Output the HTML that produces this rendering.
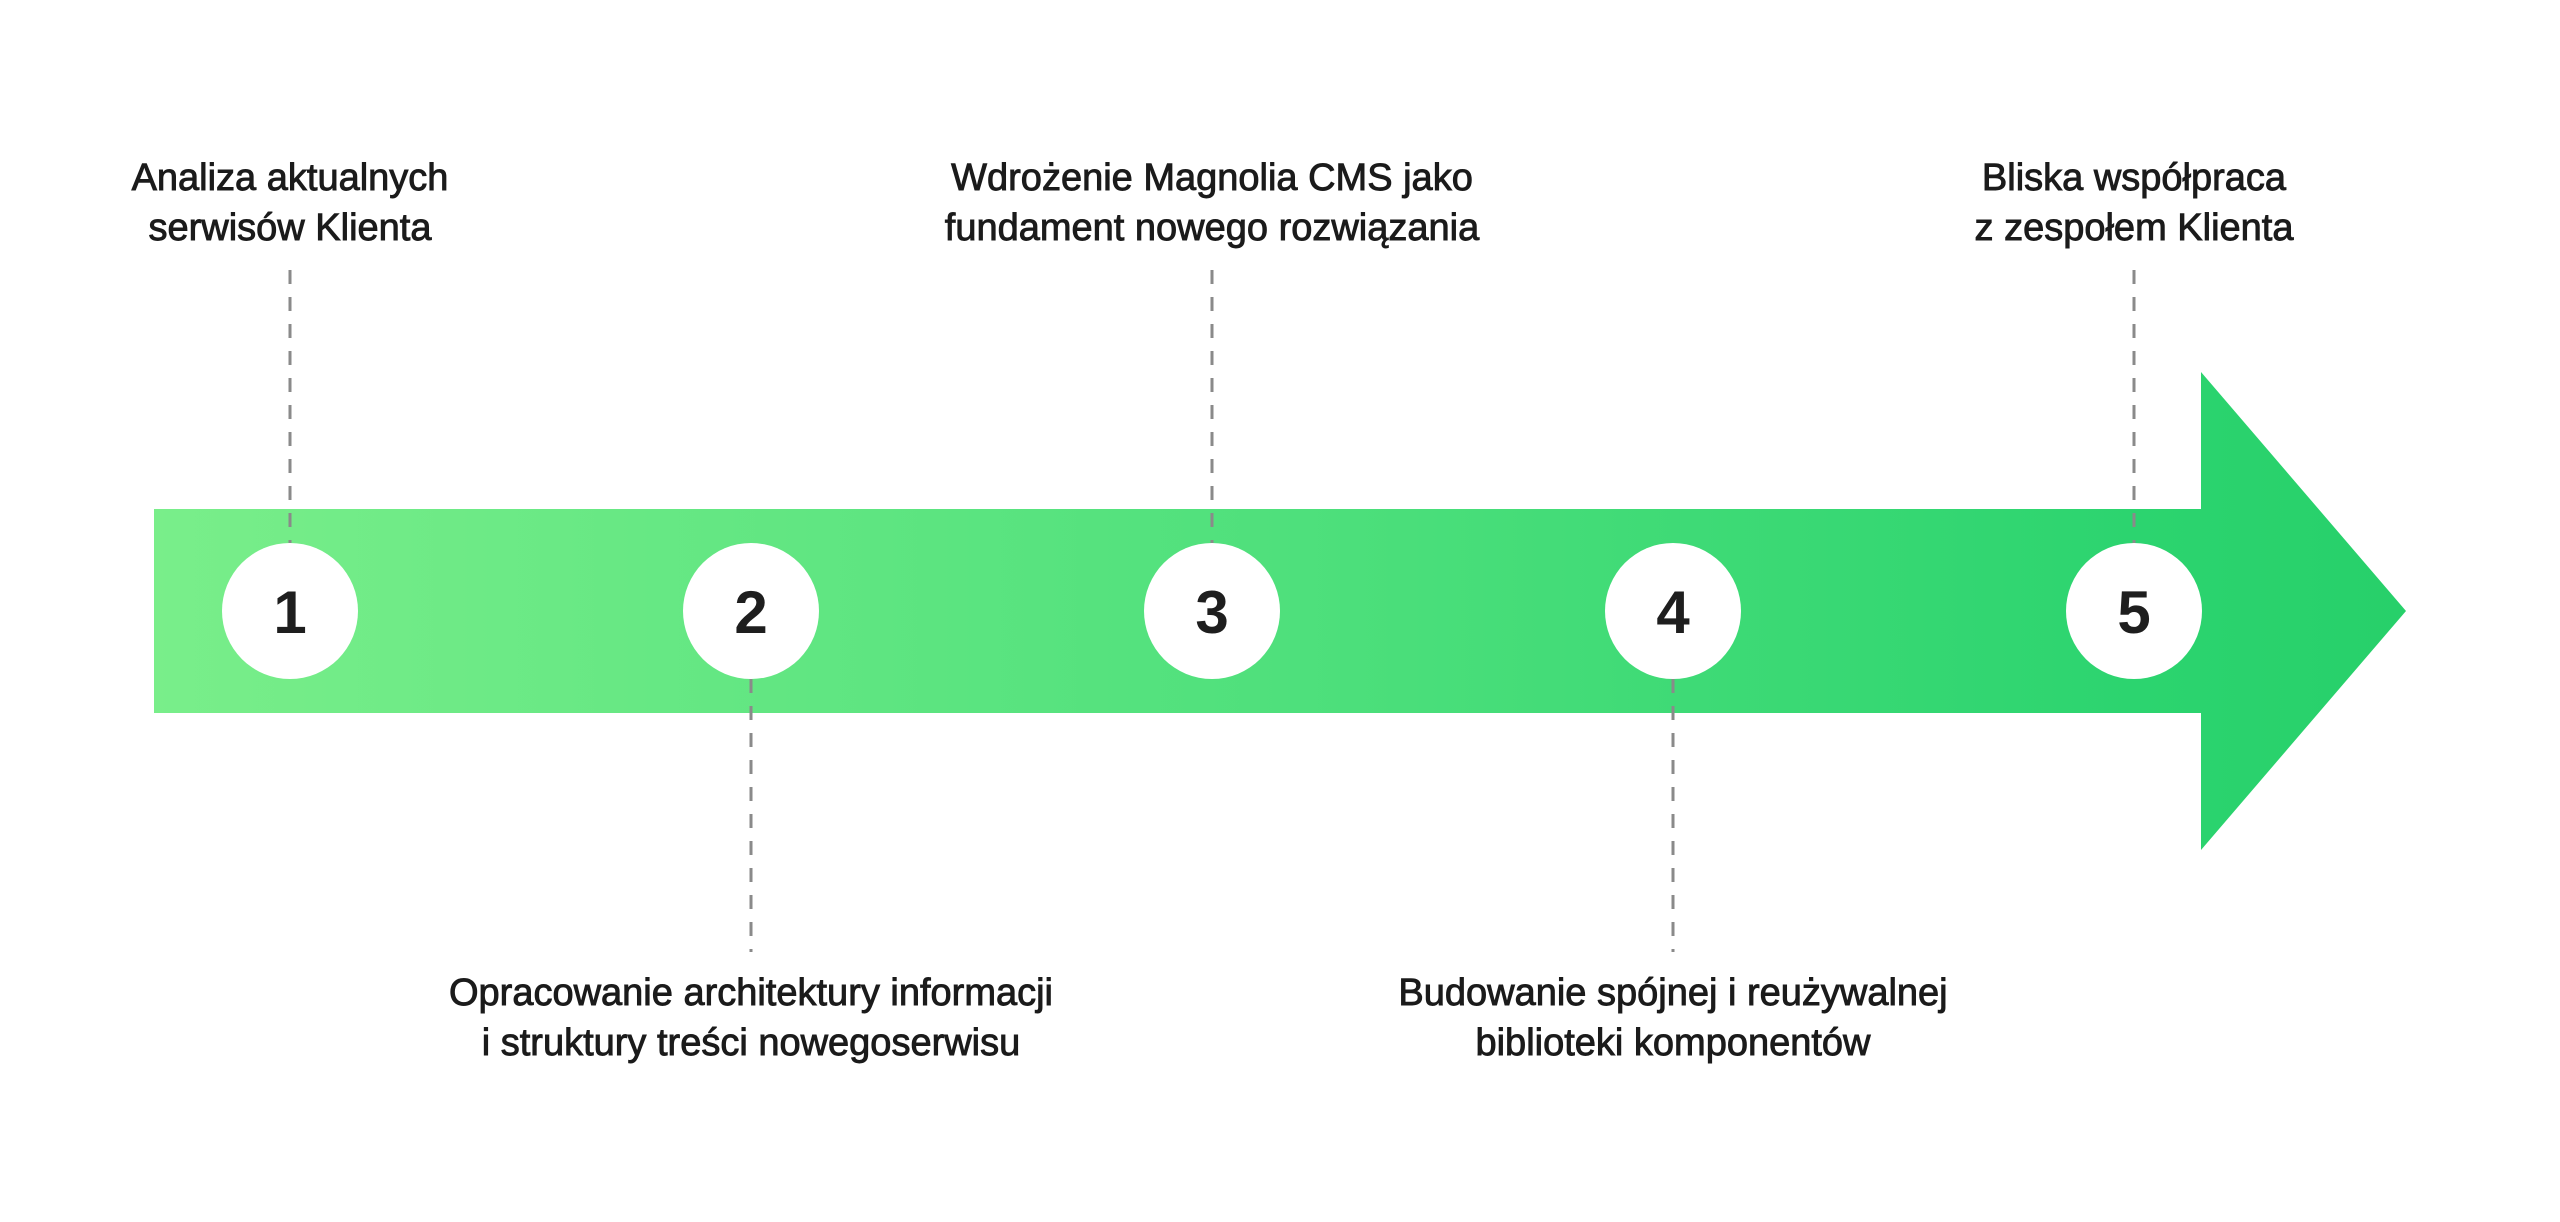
<!DOCTYPE html>
<html><head><meta charset="utf-8"><style>
html,body{margin:0;padding:0;background:#fff;}
svg{display:block;}
text{font-family:"Liberation Sans","DejaVu Sans",sans-serif;fill:#1b1b1b;}
.lbl{font-size:38px;letter-spacing:0px;stroke:#1b1b1b;stroke-width:0.9px;}
.num{font-size:60px;font-weight:bold;fill:#1e1e1e;}
</style></head><body>
<svg width="2560" height="1222" viewBox="0 0 2560 1222" xmlns="http://www.w3.org/2000/svg">
<defs>
<linearGradient id="g" x1="154" y1="0" x2="2406" y2="0" gradientUnits="userSpaceOnUse">
<stop offset="0" stop-color="#79ee8a"/>
<stop offset="0.5" stop-color="#4fe07c"/>
<stop offset="0.88" stop-color="#2cd46f"/>
<stop offset="1" stop-color="#27d06a"/>
</linearGradient>
</defs>
<rect width="2560" height="1222" fill="#fff"/>
<polygon points="154,509 2201,509 2201,372 2406,611 2201,850 2201,713 154,713" fill="url(#g)"/>
<g stroke="#8a8a8a" stroke-width="3" stroke-dasharray="14 13">
<line x1="290" y1="270" x2="290" y2="543"/>
<line x1="1212" y1="270" x2="1212" y2="543"/>
<line x1="2134" y1="270" x2="2134" y2="543"/>
<line x1="751" y1="679" x2="751" y2="952"/>
<line x1="1673" y1="679" x2="1673" y2="952"/>
</g>
<g fill="#fff">
<circle cx="290" cy="611" r="68"/>
<circle cx="751" cy="611" r="68"/>
<circle cx="1212" cy="611" r="68"/>
<circle cx="1673" cy="611" r="68"/>
<circle cx="2134" cy="611" r="68"/>
</g>
<g text-anchor="middle">
<text x="290" y="633" class="num">1</text>
<text x="751" y="633" class="num">2</text>
<text x="1212" y="633" class="num">3</text>
<text x="1673" y="633" class="num">4</text>
<text x="2134" y="633" class="num">5</text>
</g>
<g text-anchor="middle">
<text class="lbl" x="290" y="190">Analiza aktualnych</text>
<text class="lbl" x="290" y="240">serwisów Klienta</text>
<text class="lbl" x="1212" y="190">Wdrożenie Magnolia CMS jako</text>
<text class="lbl" x="1212" y="240">fundament nowego rozwiązania</text>
<text class="lbl" x="2134" y="190">Bliska współpraca</text>
<text class="lbl" x="2134" y="240">z zespołem Klienta</text>
<text class="lbl" x="751" y="1005">Opracowanie architektury informacji</text>
<text class="lbl" x="751" y="1055">i struktury treści nowegoserwisu</text>
<text class="lbl" x="1673" y="1005">Budowanie spójnej i reużywalnej</text>
<text class="lbl" x="1673" y="1055">biblioteki komponentów</text>
</g>
</svg>
</body></html>
